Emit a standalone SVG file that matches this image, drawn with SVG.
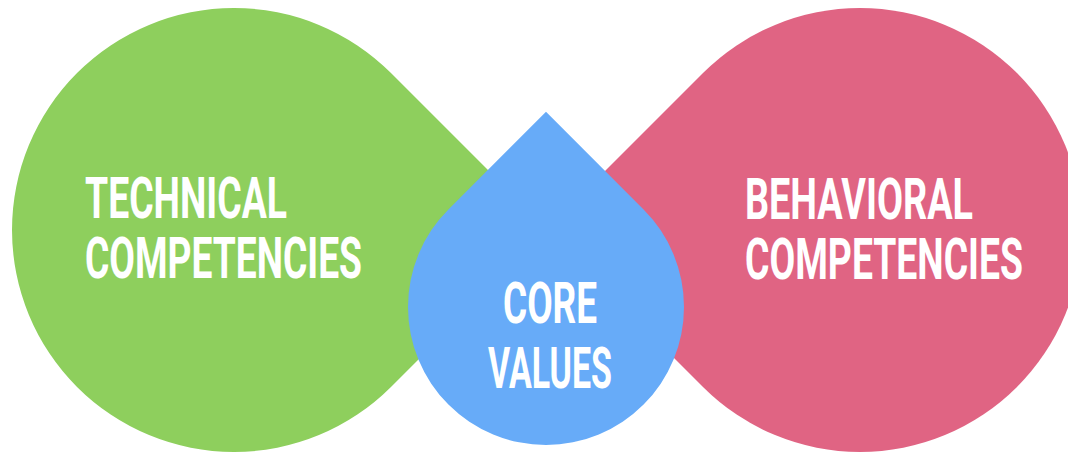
<svg xmlns="http://www.w3.org/2000/svg" width="1068" height="454" viewBox="0 0 1068 454">
  <style>
    .label { font-family: "Roboto", "Liberation Sans", sans-serif; font-weight: 700; font-size: 50px; fill: #ffffff; }
  </style>
  <rect x="0" y="0" width="1068" height="454" fill="#ffffff"/>

  <!-- left drop, tip pointing right -->
  <g id="technical">
    <path d="M547.96 230 L390.98 73.02 A222 222 0 1 0 390.98 386.98 Z" fill="#8ecf5d"/>
    <g transform="translate(85 218) scale(1 1.15)">
      <text class="label" x="0" y="0" textLength="202" lengthAdjust="spacingAndGlyphs">TECHNICAL</text>
    </g>
    <g transform="translate(85 278) scale(1 1.15)">
      <text class="label" x="0" y="0" textLength="277" lengthAdjust="spacingAndGlyphs">COMPETENCIES</text>
    </g>
  </g>

  <!-- right drop, tip pointing left -->
  <g id="behavioral">
    <path d="M546.04 230 L703.02 73.02 A222 222 0 1 1 703.02 386.98 Z" fill="#e06483"/>
    <g transform="translate(745 219) scale(1 1.15)">
      <text class="label" x="0" y="0" textLength="228" lengthAdjust="spacingAndGlyphs">BEHAVIORAL</text>
    </g>
    <g transform="translate(745 279) scale(1 1.15)">
      <text class="label" x="0" y="0" textLength="278" lengthAdjust="spacingAndGlyphs">COMPETENCIES</text>
    </g>
  </g>

  <!-- centre drop, tip pointing up -->
  <g id="core-values">
    <path d="M546 111.84 L643.58 209.42 A138 138 0 1 1 448.42 209.42 Z" fill="#67abf8"/>
    <g transform="translate(503 323) scale(1 1.13)">
      <text class="label" x="0" y="0" textLength="94" lengthAdjust="spacingAndGlyphs">CORE</text>
    </g>
    <g transform="translate(488 388) scale(1 1.13)">
      <text class="label" x="0" y="0" textLength="124" lengthAdjust="spacingAndGlyphs">VALUES</text>
    </g>
  </g>

  <g id="connectors"/>
</svg>
